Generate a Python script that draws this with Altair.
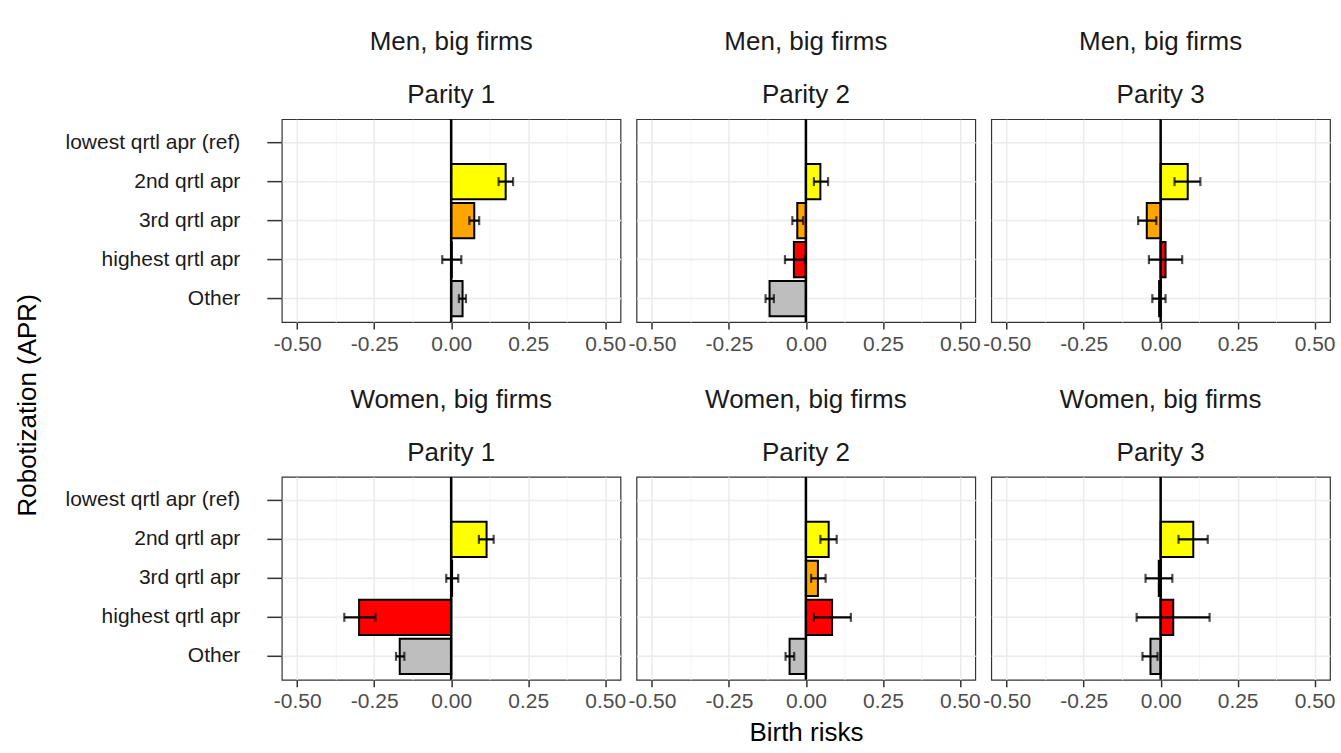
import altair as alt
import pandas as pd

FONT = "Liberation Sans"

categories = ["lowest qrtl apr (ref)", "2nd qrtl apr", "3rd qrtl apr", "highest qrtl apr", "Other"]
bar_categories = ["2nd qrtl apr", "3rd qrtl apr", "highest qrtl apr", "Other"]
bar_colors = ["#FFFF00", "#FFA500", "#FF0000", "#BEBEBE"]
groups = ["Men, big firms", "Women, big firms"]
parities = ["Parity 1", "Parity 2", "Parity 3"]

men_p1_est = [0.177, 0.075, 0.002, 0.037]
men_p1_lo = [0.154, 0.059, -0.029, 0.025]
men_p1_hi = [0.201, 0.091, 0.033, 0.048]
men_p2_est = [0.047, -0.028, -0.039, -0.118]
men_p2_lo = [0.026, -0.044, -0.068, -0.131]
men_p2_hi = [0.072, -0.009, -0.003, -0.104]
men_p3_est = [0.088, -0.045, 0.016, -0.005]
men_p3_lo = [0.045, -0.073, -0.038, -0.027]
men_p3_hi = [0.129, -0.014, 0.070, 0.016]
women_p1_est = [0.115, 0.003, -0.299, -0.167]
women_p1_lo = [0.090, -0.016, -0.347, -0.179]
women_p1_hi = [0.138, 0.023, -0.246, -0.152]
women_p2_est = [0.074, 0.039, 0.085, -0.053]
women_p2_lo = [0.047, 0.017, 0.026, -0.066]
women_p2_hi = [0.100, 0.064, 0.146, -0.038]
women_p3_est = [0.106, -0.006, 0.041, -0.033]
women_p3_lo = [0.058, -0.049, -0.078, -0.059]
women_p3_hi = [0.153, 0.038, 0.159, -0.010]

x_ticks = [-0.5, -0.25, 0, 0.25, 0.5]
x_minor = [-0.375, -0.125, 0.125, 0.375]
x_domain = [-0.55, 0.55]
zero_line = [0]

panel_data = [
    [(men_p1_est, men_p1_lo, men_p1_hi), (men_p2_est, men_p2_lo, men_p2_hi), (men_p3_est, men_p3_lo, men_p3_hi)],
    [(women_p1_est, women_p1_lo, women_p1_hi), (women_p2_est, women_p2_lo, women_p2_hi), (women_p3_est, women_p3_lo, women_p3_hi)],
]


def panel(row, col):
    est, lo, hi = panel_data[row][col]
    df = pd.DataFrame({"cat": bar_categories, "est": est, "lo": lo, "hi": hi})
    zdf = pd.DataFrame({"v": zero_line})
    xscale = alt.Scale(domain=x_domain, nice=False, zero=False)
    yscale = alt.Scale(domain=categories, paddingInner=0.1, paddingOuter=0.15)
    first = col == 0
    yaxis = alt.Axis(
        title=None, labels=first, ticks=first, domain=False, bandPosition=0.5,
        grid=True, gridColor="#ebebeb", gridWidth=1.5,
        tickColor="#333333", tickSize=15, tickWidth=1.5,
        labelFontSize=21, labelColor="#1a1a1a", labelPadding=27, labelFont=FONT,
    )
    y = alt.Y("cat:N", scale=yscale, axis=yaxis, sort=categories)
    xaxis = alt.Axis(
        title="Birth risks" if (row == 1 and col == 1) else None,
        values=x_ticks,
        labelExpr="replace(format(datum.value, '.2f'), '\u2212', '-')",
        grid=True, gridColor="#ebebeb", gridWidth=1.5, domain=False,
        tickColor="#333333", tickSize=7, tickWidth=1.5,
        labelFontSize=21, labelColor="#4d4d4d", labelPadding=4, labelFont=FONT,
        labelFlush=False, labelOverlap=False,
        titleFontSize=26, titleFontWeight="normal", titleColor="#000000",
        titlePadding=8, titleFont=FONT,
    )
    minor = alt.Chart(zdf).mark_rule(opacity=0).encode(
        x=alt.X("v:Q", scale=xscale, axis=alt.Axis(
            orient="top", values=x_minor, grid=True, gridColor="#f3f3f3", gridWidth=0.9,
            labels=False, ticks=False, domain=False, title=None)),
    )
    bars = alt.Chart(df).mark_bar(stroke="black", strokeWidth=2).encode(
        x=alt.X("est:Q", scale=xscale, axis=xaxis),
        x2=alt.datum(0),
        y=y,
        color=alt.Color("cat:N", scale=alt.Scale(domain=bar_categories, range=bar_colors), legend=None),
    )
    zero = alt.Chart(zdf).mark_rule(color="black", strokeWidth=2.5).encode(
        x=alt.X("v:Q", scale=xscale, axis=None),
    )
    err = alt.Chart(df).mark_rule(color="black", strokeWidth=2.2).encode(
        x=alt.X("lo:Q", scale=xscale, axis=None),
        x2="hi:Q",
        y=y,
    )
    caps = alt.Chart(df).transform_fold(["lo", "hi"], as_=["k", "val"]).mark_tick(
        color="black", thickness=2.2, size=9
    ).encode(
        x=alt.X("val:Q", scale=xscale, axis=None),
        y=y,
    )
    return alt.layer(minor, bars, zero, err, caps).resolve_axis(x="independent").properties(
        width=339, height=203,
        title=alt.TitleParams(
            text=groups[row], subtitle=parities[col],
            fontSize=26, subtitleFontSize=26, fontWeight="normal",
            font=FONT, subtitleFont=FONT, color="#1a1a1a", subtitleColor="#1a1a1a",
            anchor="middle", offset=10, subtitlePadding=27,
        ),
    )


panels = [panel(r, c) for r in range(2) for c in range(3)]

chart = alt.concat(*panels, columns=3, spacing={"row": 155, "column": 16}).properties(
    bounds="flush",
    title=alt.TitleParams(
        "Robotization (APR)", orient="left", anchor="middle", fontSize=26,
        fontWeight="normal", font=FONT, color="#000000", offset=23, dx=-18,
    ),
    padding={"left": 15, "top": 28, "right": 5, "bottom": 5},
    background="white",
).configure_view(stroke="#333333", strokeWidth=1.2)

chart.save("out.html", embed_options={"renderer": "svg", "actions": False})
